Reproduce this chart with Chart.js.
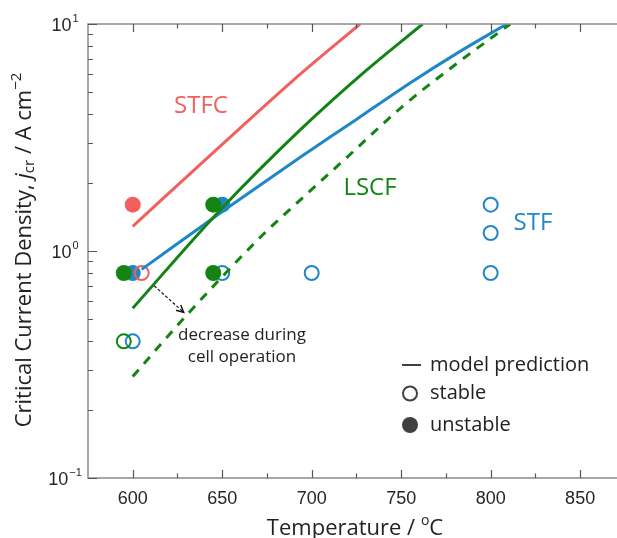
<!DOCTYPE html>
<html><head><meta charset="utf-8">
<script src="https://cdn.jsdelivr.net/npm/chart.js@4"></script>
<style>html,body{margin:0;padding:0;background:#fff;overflow:hidden}</style>
</head><body>
<canvas id="c" width="617" height="538"></canvas>
<script>
// ---- tick labels ----
const xTicks = [600, 650, 700, 750, 800, 850];
const xTickLabels = ['600', '650', '700', '750', '800', '850'];
const xMinorTicks = [625, 675, 725, 775, 825];
const yTicks = [0.1, 1, 10];
const yTickExp = ['\u22121', '0', '1'];
const yMinorTicks = [0.2,0.3,0.4,0.5,0.6,0.7,0.8,0.9,2,3,4,5,6,7,8,9];

// ---- model prediction curves (T / °C, j / A cm^-2) ----
const stfcModelT = [600, 650, 690, 727];
const stfcModelJ = [1.285, 2.95, 5.68, 10];
const lscfModelT = [600, 648, 694, 730, 762];
const lscfModelJ = [0.56, 1.49, 3.44, 6.2, 10];
const lscfDegT = [600, 629, 673, 690, 720, 751, 780, 811];
const lscfDegJ = [0.28, 0.51, 1.185, 1.58, 2.6, 4.35, 6.6, 10];
const stfModelT = [605, 653, 694, 725, 755, 782, 809];
const stfModelJ = [0.83, 1.55, 2.6, 3.8, 5.5, 7.5, 10];

// ---- experiments ----
const stfcUnstableT = [600];           const stfcUnstableJ = [1.6];
const stfcStableT = [605];             const stfcStableJ = [0.8];
const stfUnstableT = [600, 650];       const stfUnstableJ = [0.8, 1.6];
const stfStableT = [650, 700, 800, 800, 800, 600];
const stfStableJ = [0.8, 0.8, 0.8, 1.2, 1.6, 0.4];
const lscfUnstableT = [595, 645, 645]; const lscfUnstableJ = [0.8, 1.6, 0.8];
const lscfStableT = [595];             const lscfStableJ = [0.4];

// annotation arrow (data coords)
const arrowT = [612, 628.5];
const arrowJ = [0.703, 0.536];

const RED = '#f2605e', GREEN = '#138413', BLUE = '#1f87c8';
const zip = (a, b) => a.map((v, i) => ({x: v, y: b[i]}));

function lineDS(t, j, col, dash, ord) {
  return {type:'line', data: zip(t, j), borderColor: col, borderWidth: 3, borderDash: dash,
    pointRadius: 0, fill: false, showLine: true, tension: 0.4, cubicInterpolationMode: 'monotone', order: ord};
}
function ptDS(t, j, col, filled, ord) {
  return {type:'scatter', data: zip(t, j), borderColor: col, backgroundColor: filled ? col : 'rgba(0,0,0,0)',
    pointRadius: filled ? 8 : 7, pointBorderWidth: filled ? 0 : 2, pointHoverRadius: 0, showLine: false, order: ord};
}

const decor = {
  id: 'decor',
  afterDatasetsDraw(chart) {
    const ctx = chart.ctx, ca = chart.chartArea, xs = chart.scales.x, ys = chart.scales.y;
    ctx.save();
    // arrow
    const x1 = xs.getPixelForValue(arrowT[0]), y1 = ys.getPixelForValue(arrowJ[0]);
    const x2 = xs.getPixelForValue(arrowT[1]), y2 = ys.getPixelForValue(arrowJ[1]);
    ctx.strokeStyle = '#111'; ctx.lineWidth = 1.2; ctx.setLineDash([3, 2]);
    ctx.beginPath(); ctx.moveTo(x1, y1); ctx.lineTo(x2, y2); ctx.stroke();
    ctx.setLineDash([]);
    const a = Math.atan2(y2 - y1, x2 - x1);
    ctx.beginPath();
    ctx.moveTo(x2 - 8 * Math.cos(a - 0.45), y2 - 8 * Math.sin(a - 0.45));
    ctx.lineTo(x2, y2);
    ctx.lineTo(x2 - 8 * Math.cos(a + 0.45), y2 - 8 * Math.sin(a + 0.45));
    ctx.lineWidth = 1.4; ctx.stroke();

    // axes frame
    ctx.strokeStyle = '#8a8a8a'; ctx.lineWidth = 1.5;
    ctx.beginPath();
    ctx.moveTo(ca.right + 2, ca.top); ctx.lineTo(ca.left, ca.top);
    ctx.lineTo(ca.left, ca.bottom); ctx.lineTo(ca.right + 2, ca.bottom);
    ctx.stroke();
    // ticks
    ctx.strokeStyle = '#555'; ctx.lineWidth = 1.2;
    ctx.beginPath();
    xTicks.forEach(v => { const p = Math.round(xs.getPixelForValue(v)) + 0.5;
      ctx.moveTo(p, ca.bottom); ctx.lineTo(p, ca.bottom - 8);
      ctx.moveTo(p, ca.top); ctx.lineTo(p, ca.top + 8); });
    xMinorTicks.forEach(v => { const p = Math.round(xs.getPixelForValue(v)) + 0.5;
      ctx.moveTo(p, ca.bottom); ctx.lineTo(p, ca.bottom - 4.5);
      ctx.moveTo(p, ca.top); ctx.lineTo(p, ca.top + 4.5); });
    yTicks.forEach(v => { const p = Math.round(ys.getPixelForValue(v)) + 0.5;
      ctx.moveTo(ca.left, p); ctx.lineTo(ca.left + 9, p); });
    yMinorTicks.forEach(v => { const p = Math.round(ys.getPixelForValue(v)) + 0.5;
      ctx.moveTo(ca.left, p); ctx.lineTo(ca.left + 5, p); });
    ctx.stroke();

    // x tick labels
    ctx.fillStyle = '#262626'; ctx.textBaseline = 'middle'; ctx.textAlign = 'center';
    ctx.font = '18px "Liberation Sans", Arial, sans-serif';
    xTicks.forEach((v, i) => ctx.fillText(xTickLabels[i], xs.getPixelForValue(v), ca.bottom + 21));

    // y tick labels with superscripts
    yTicks.forEach((v, i) => {
      const p = ys.getPixelForValue(v);
      ctx.font = '18px "Liberation Sans", Arial, sans-serif';
      const w1 = ctx.measureText('10').width;
      ctx.font = '11px "Liberation Sans", Arial, sans-serif';
      const w2 = ctx.measureText(yTickExp[i]).width;
      const x0 = 65 - (w1 + w2 + 1) / 2;
      ctx.textAlign = 'left';
      ctx.font = '18px "Liberation Sans", Arial, sans-serif';
      ctx.fillText('10', x0, p + 2);
      ctx.font = '11px "Liberation Sans", Arial, sans-serif';
      ctx.fillText(yTickExp[i], x0 + w1 + 1, p - 5);
    });

    // titles
    const tf = '"Open Sans", sans-serif';
    ctx.fillStyle = '#222';
    {
      const parts = [['Temperature / ', '22px ' + tf, 0], ['o', '14px ' + tf, -8], ['C', '22px ' + tf, 0]];
      drawParts(ctx, parts, 355, 529);
    }
    {
      ctx.save();
      ctx.translate(25, 250); ctx.rotate(-Math.PI / 2);
      const parts = [['Critical Current Density, ', '22px ' + tf, 0], ['j', 'italic 22px ' + tf, 0],
        ['cr', '15px ' + tf, 5], [' / A cm', '22px ' + tf, 0], ['\u22122', '15px ' + tf, -8]];
      drawParts(ctx, parts, 0, 0);
      ctx.restore();
    }

    // series labels
    ctx.textAlign = 'center'; ctx.textBaseline = 'middle';
    ctx.font = '24px ' + tf;
    ctx.fillStyle = RED; ctx.fillText('STFC', 201, 106);
    ctx.fillStyle = GREEN; ctx.fillText('LSCF', 370, 188);
    ctx.fillStyle = BLUE; ctx.fillText('STF', 533, 223);
    // annotation
    ctx.fillStyle = '#222'; ctx.font = '17px ' + tf;
    ctx.fillText('decrease during', 242, 335);
    ctx.fillText('cell operation', 242, 357);

    // legend
    ctx.strokeStyle = '#404040'; ctx.lineWidth = 2;
    ctx.beginPath(); ctx.moveTo(402, 365); ctx.lineTo(421, 365); ctx.stroke();
    ctx.beginPath(); ctx.arc(410, 393.5, 7, 0, Math.PI * 2); ctx.stroke();
    ctx.fillStyle = '#404040';
    ctx.beginPath(); ctx.arc(410, 425, 8, 0, Math.PI * 2); ctx.fill();
    ctx.fillStyle = '#222'; ctx.textAlign = 'left'; ctx.font = '20px ' + tf;
    ctx.fillText('model prediction', 430, 365);
    ctx.fillText('stable', 430, 393);
    ctx.fillText('unstable', 430, 425);
    ctx.restore();
  }
};

function drawParts(ctx, parts, cx, cy) {
  let total = 0;
  parts.forEach(p => { ctx.font = p[1]; total += ctx.measureText(p[0]).width; });
  let x = cx - total / 2;
  ctx.textAlign = 'left'; ctx.textBaseline = 'middle';
  parts.forEach(p => { ctx.font = p[1]; ctx.fillText(p[0], x, cy + p[2]); x += ctx.measureText(p[0]).width; });
}

new Chart(document.getElementById('c'), {
  type: 'scatter',
  data: { datasets: [
    lineDS(stfcModelT, stfcModelJ, RED, [], 1),
    lineDS(lscfModelT, lscfModelJ, GREEN, [], 1),
    lineDS(lscfDegT, lscfDegJ, GREEN, [9, 8], 1),
    lineDS(stfModelT, stfModelJ, BLUE, [], 2),
    ptDS(stfcStableT, stfcStableJ, RED, false, 3),
    ptDS(stfcUnstableT, stfcUnstableJ, RED, true, 3),
    ptDS(lscfUnstableT, lscfUnstableJ, GREEN, true, 4),
    ptDS(lscfStableT, lscfStableJ, GREEN, false, 4),
    ptDS(stfUnstableT, stfUnstableJ, BLUE, true, 5),
    ptDS(stfStableT, stfStableJ, BLUE, false, 6)
  ]},
  options: {
    responsive: false, animation: false, devicePixelRatio: 1,
    layout: { autoPadding: false, padding: { top: 24, left: 0, right: 0, bottom: 0 } },
    plugins: { legend: { display: false }, tooltip: { enabled: false } },
    scales: {
      x: { type: 'linear', min: 575, max: 870.6,
        afterFit: s => { s.height = 60; },
        grid: { display: false, drawTicks: false }, border: { display: false },
        ticks: { display: false } },
      y: { type: 'logarithmic', min: 0.1, max: 10,
        afterFit: s => { s.width = 88; },
        grid: { display: false, drawTicks: false }, border: { display: false },
        ticks: { display: false } }
    }
  },
  plugins: [decor]
});
</script>
</body></html>
